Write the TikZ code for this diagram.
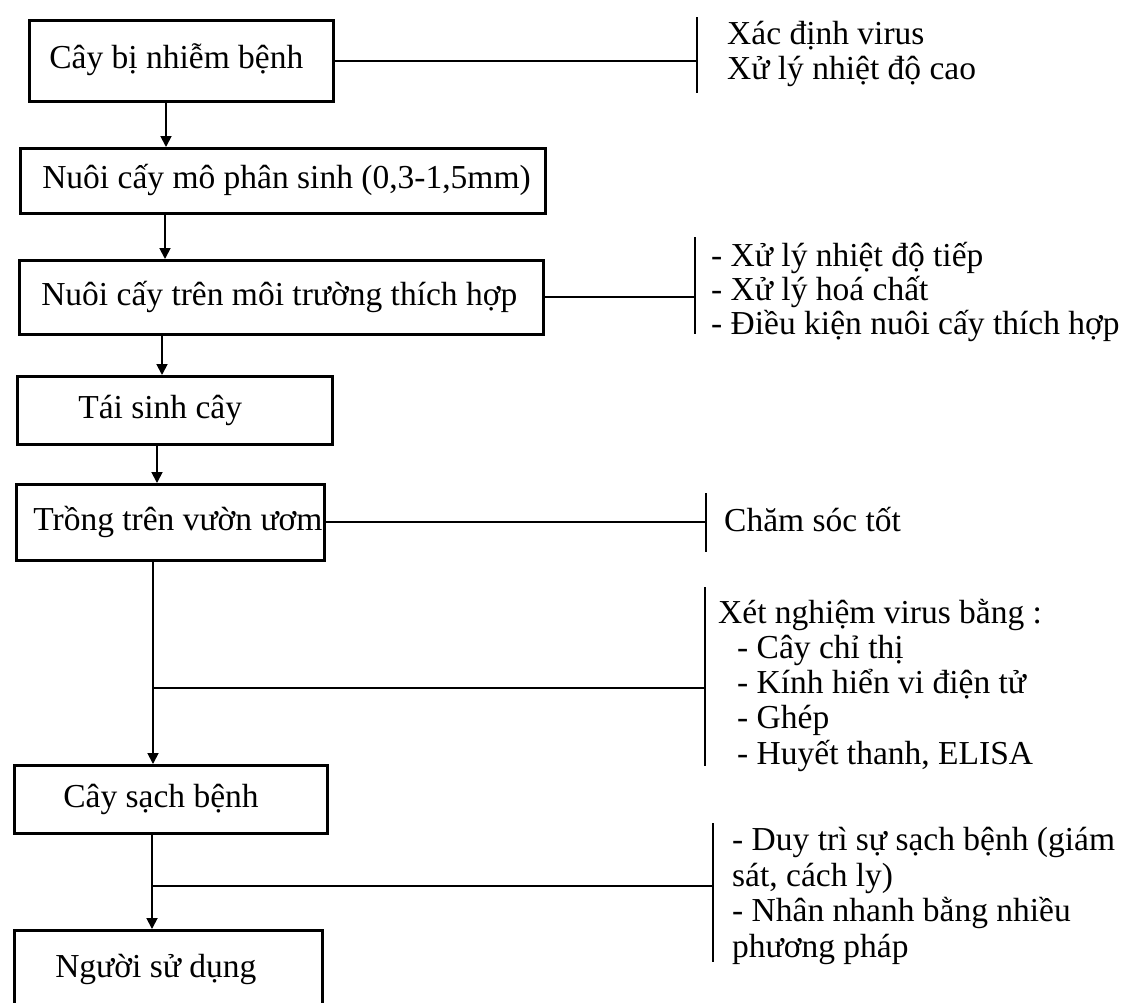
\documentclass[tikz,border=0pt]{standalone}
\usepackage{fontspec}
\setmainfont{Liberation Serif}
\usetikzlibrary{arrows.meta}
\newcommand\boxtxt[3]{\makebox[#1][l]{\hspace*{#2}#3}}
\begin{document}
\begin{tikzpicture}[x=1pt,y=-1pt,
  font=\fontsize{33.5}{35}\selectfont,
  box/.style={draw, line width=2.6pt, inner sep=0pt, anchor=north west, text height=24pt, text depth=8pt},
  conn/.style={line width=2pt},
  arr/.style={line width=1.8pt, -{Triangle[length=11pt,width=11pt]}},
  bar/.style={line width=2.6pt},
  note/.style={anchor=base west, inner sep=0pt, align=left}]
\useasboundingbox (0,0) rectangle (1129,1002);
\clip (0,0) rectangle (1129,1002);
\fill[white] (0,0) rectangle (1129,1002);

% main boxes
\node[box, minimum height=81pt] (b1) at (28,19) {\boxtxt{304pt}{20pt}{Cây bị nhiễm bệnh}};
\node[box, minimum height=65pt] (b2) at (19,147) {\boxtxt{525pt}{22pt}{Nuôi cấy mô phân sinh (0,3-1,5mm)}};
\node[box, minimum height=74pt] (b3) at (18,259) {\boxtxt{524pt}{22pt}{Nuôi cấy trên môi trường thích hợp}};
\node[box, minimum height=68pt] (b4) at (16,375) {\boxtxt{315pt}{61pt}{Tái sinh cây}};
\node[box, minimum height=76pt] (b5) at (15,483) {\boxtxt{308pt}{17pt}{Trồng trên vườn ươm}};
\node[box, minimum height=68pt] (b6) at (13,764) {\boxtxt{313pt}{49pt}{Cây sạch bệnh}};
\node[box, minimum height=78pt] (b7) at (13,929) {\boxtxt{308pt}{41pt}{Người sử dụng}};

% arrow columns
\coordinate (x1) at (166,0);
\coordinate (x2) at (165,0);
\coordinate (x3) at (162,0);
\coordinate (x4) at (157,0);
\coordinate (x5) at (153,0);
\coordinate (x6) at (152,0);
\draw[arr] (b1.south -| x1) -- (b2.north -| x1);
\draw[arr] (b2.south -| x2) -- (b3.north -| x2);
\draw[arr] (b3.south -| x3) -- (b4.north -| x3);
\draw[arr] (b4.south -| x4) -- (b5.north -| x4);
\draw[arr] (b5.south -| x5) -- (b6.north -| x5);
\draw[arr] (b6.south -| x6) -- (b7.north -| x6);

% side bars
\coordinate (k1) at (697,0);
\coordinate (k2) at (695,0);
\coordinate (k3) at (706,0);
\coordinate (k4) at (705,0);
\coordinate (k5) at (713,0);
\draw[bar] (697,17) -- (697,93);
\draw[bar] (695,237) -- (695,334);
\draw[bar] (706,493) -- (706,552);
\draw[bar] (705,587) -- (705,766);
\draw[bar] (713,823) -- (713,962);

% side connectors
\draw[conn] (b1) -- (b1 -| k1);
\draw[conn] (b3) -- (b3 -| k2);
\draw[conn] (b5) -- (b5 -| k3);
\coordinate (j4) at (153,688);
\coordinate (j5) at (152,886);
\draw[conn] (j4) -- (j4 -| k4);
\draw[conn] (j5) -- (j5 -| k5);

% notes (anchor = baseline of last line)
\node[note] (t1) at (727,79) {Xác định virus\\Xử lý nhiệt độ cao};
\node[note, font=\fontsize{33.5}{34}\selectfont] (t2) at (711,334) {- Xử lý nhiệt độ tiếp\\- Xử lý hoá chất\\- Điều kiện nuôi cấy thích hợp};
\node[note] (t3) at (724,531) {Chăm sóc tốt};
\node[note, font=\fontsize{33.5}{35.2}\selectfont] (t4) at (718,764) {Xét nghiệm virus bằng :\\\hspace*{19pt}- Cây chỉ thị\\\hspace*{19pt}- Kính hiển vi điện tử\\\hspace*{19pt}- Ghép\\\hspace*{19pt}- Huyết thanh, ELISA};
\node[note, font=\fontsize{33.5}{35.5}\selectfont] (t5) at (732,957) {- Duy trì sự sạch bệnh (giám\\sát, cách ly)\\- Nhân nhanh bằng nhiều\\phương pháp};
\end{tikzpicture}
\end{document}
